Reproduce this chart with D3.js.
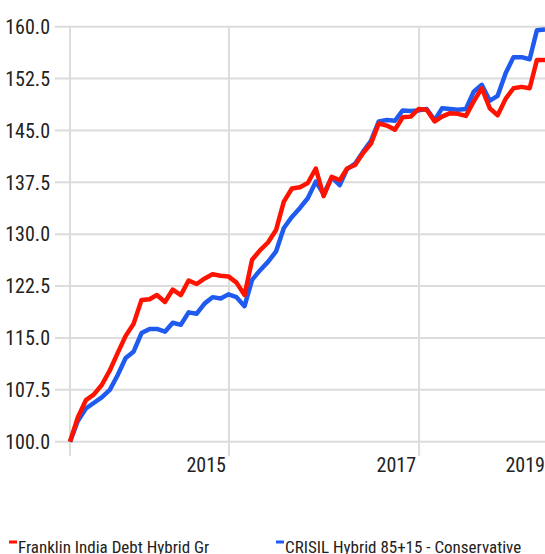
<!DOCTYPE html>
<html>
<head>
<meta charset="utf-8">
<script src="https://cdn.jsdelivr.net/npm/d3@7"></script>
<style>
  body { margin: 0; background: #fff; }
  svg text { font-family: "Liberation Sans Narrow", "Roboto Condensed", "DejaVu Sans Condensed", sans-serif; font-stretch: condensed; fill: #222; }
</style>
</head>
<body>
<div id="chart"></div>
<script>
// 1: DATA
const seriesNames = ["Franklin India Debt Hybrid Gr", "CRISIL Hybrid 85+15 - Conservative"];
const seriesColors = ["#ff1200", "#1f5bef"];
const startMonth = new Date(2014, 3, 30);   // first month-end point
const fundValues = [100, 103.5, 106.0, 106.8, 108.2, 110.3, 112.8, 115.3, 117.0, 120.5,
  120.6, 121.2, 120.2, 122.0, 121.2, 123.3, 122.8, 123.6, 124.2, 124.0,
  123.9, 123.0, 121.2, 126.3, 127.7, 128.8, 130.6, 134.7, 136.6, 136.8,
  137.4, 139.5, 135.5, 138.3, 137.8, 139.5, 140.0, 141.7, 143.1, 146.0,
  145.7, 145.1, 146.9, 147.0, 148.1, 148.0, 146.3, 147.0, 147.5, 147.4,
  147.1, 149.2, 151.1, 148.2, 147.2, 149.6, 151.1, 151.3, 151.1, 155.2, 155.2];
const indexValues = [100, 103.0, 104.8, 105.6, 106.4, 107.5, 109.6, 112.1, 113.0, 115.7,
  116.3, 116.3, 115.9, 117.2, 116.9, 118.7, 118.5, 120.0, 120.9, 120.7,
  121.3, 120.9, 119.6, 123.4, 124.8, 126.0, 127.5, 130.9, 132.5, 133.8,
  135.2, 137.6, 135.8, 138.2, 137.1, 139.4, 140.2, 141.9, 143.5, 146.3,
  146.5, 146.4, 147.9, 147.8, 147.9, 148.1, 146.5, 148.2, 148.1, 148.0,
  148.1, 150.6, 151.6, 149.3, 150.0, 153.3, 155.6, 155.6, 155.3, 159.5, 159.6];
const yTicks = [100, 107.5, 115, 122.5, 130, 137.5, 145, 152.5, 160];
const xTickLabels = ["2015", "2017", "2019"];
const xTickDates = [new Date(2016, 0, 1), new Date(2018, 0, 1), new Date(2020, 0, 1)];

const dates = fundValues.map((v, i) => d3.timeMonth.offset(startMonth, i));
const series = [fundValues, indexValues].map((vals, s) => ({
  name: seriesNames[s],
  color: seriesColors[s],
  values: vals.map((v, i) => ({ date: dates[i], value: v }))
}));

// 2: SVG
const W = 545, H = 554;
const plot = { left: 70, right: 545, top: 26.7, bottom: 441.7 };

const svg = d3.select("#chart").append("svg")
  .attr("width", W)
  .attr("height", H);

// 3: SCALES
const x = d3.scaleTime()
  .domain(d3.extent(dates))
  .range([plot.left, plot.right]);

const y = d3.scaleLinear()
  .domain([100, 160])
  .range([plot.bottom, plot.top]);

// 4: GRID
svg.append("g")
  .selectAll("line")
  .data(yTicks)
  .join("line")
  .attr("x1", 55)
  .attr("x2", W)
  .attr("y1", d => y(d))
  .attr("y2", d => y(d))
  .attr("stroke", "#dcdcdc")
  .attr("stroke-width", 2);

const vLines = [x.domain()[0]].concat(xTickDates.filter(d => d <= x.domain()[1]));
svg.append("g")
  .selectAll("line")
  .data(vLines)
  .join("line")
  .attr("x1", d => x(d))
  .attr("x2", d => x(d))
  .attr("y1", plot.top - 1)
  .attr("y2", plot.bottom + 14)
  .attr("stroke", "#dcdcdc")
  .attr("stroke-width", 2);

// 5: AXIS LABELS
svg.append("g")
  .selectAll("text")
  .data(yTicks)
  .join("text")
  .attr("x", 50)
  .attr("y", d => y(d))
  .attr("dy", "0.36em")
  .attr("text-anchor", "end")
  .style("font-size", "20px")
  .text(d3.format(".1f"));

svg.append("g")
  .selectAll("text")
  .data(xTickLabels)
  .join("text")
  .attr("x", (d, i) => Math.min(x(xTickDates[i]) - 3, W))
  .attr("y", 472)
  .attr("text-anchor", "end")
  .style("font-size", "20px")
  .text(d => d);

// 6: LINES
const line = d3.line()
  .x(d => x(d.date))
  .y(d => y(d.value));

svg.append("g")
  .selectAll("path")
  .data(series.slice().reverse())
  .join("path")
  .attr("d", d => line(d.values))
  .attr("fill", "none")
  .attr("stroke", d => d.color)
  .attr("stroke-width", 4.5)
  .attr("stroke-linejoin", "round");

// 7: LEGEND
const legendX = [9, 276];
const legend = svg.append("g")
  .selectAll("g")
  .data(series)
  .join("g")
  .attr("transform", (d, i) => `translate(${legendX[i]},553)`);

legend.append("rect")
  .attr("x", 0)
  .attr("y", -12.5)
  .attr("width", 8)
  .attr("height", 3)
  .attr("fill", d => d.color);

legend.append("text")
  .attr("x", 9)
  .attr("y", 0)
  .style("font-size", "17px")
  .text(d => d.name);
</script>
</body>
</html>
